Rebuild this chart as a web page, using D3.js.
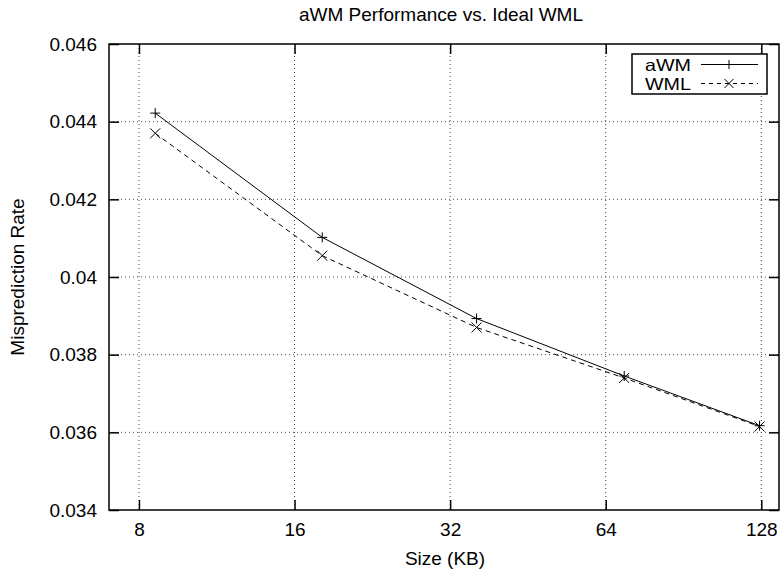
<!DOCTYPE html>
<html lang="en">
<head>
<meta charset="utf-8">
<title>aWM Performance vs. Ideal WML</title>
<script type="text/javascript" src="https://cdn.jsdelivr.net/npm/d3@7/dist/d3.min.js"></script>
<style>
body { margin: 0; background: #fff; }
svg text { font-family: "Liberation Sans", Arial, sans-serif; fill: #000; }
.grid line { stroke: #444; stroke-width: 1; stroke-dasharray: 1,3; }
.series path { fill: none; stroke: #000; stroke-width: 1; }
.series path.dashed { stroke-dasharray: 5,4; }
.marker { stroke: #000; stroke-width: 1; fill: none; }
</style>
</head>
<body>
<div id="chart"></div>
<script type="text/javascript">

// data
var sizes = [8.6, 18.1, 36, 69.5, 127];
var awm = [0.04422, 0.04102, 0.03893, 0.03745, 0.03617];
var wml = [0.04370, 0.04055, 0.03870, 0.03740, 0.03615];
var xTicks = [8, 16, 32, 64, 128];
var yTicks = [0.034, 0.036, 0.038, 0.040, 0.042, 0.044, 0.046];
var seriesNames = ["aWM", "WML"];

var width = 780, height = 574;
var box = {left: 109, right: 779, top: 44, bottom: 510};
var fontSize = 19;

var svg = d3.select("#chart").append("svg")
    .attr("width", width)
    .attr("height", height);

var x = d3.scaleLog().base(2).domain([7, 138.5]).range([box.left, box.right]);
var y = d3.scaleLinear().domain([0.034, 0.046]).range([box.bottom, box.top]);

// grid
var grid = svg.append("g").attr("class", "grid");
grid.selectAll(".gx")
    .data(xTicks)
    .enter().append("line")
        .attr("x1", d => x(d)).attr("x2", d => x(d))
        .attr("y1", box.top).attr("y2", box.bottom);
grid.selectAll(".gy")
    .data(yTicks.slice(1, -1))
    .enter().append("line")
        .attr("x1", box.left).attr("x2", box.right)
        .attr("y1", d => y(d)).attr("y2", d => y(d));

// axes, ticks mirrored on all four sides
function fmtY(d) { return d3.format(".3f")(d).replace(/0+$/, ""); }

svg.append("g")
    .attr("transform", "translate(0," + box.bottom + ")")
    .call(d3.axisBottom(x).tickValues(xTicks).tickFormat(d3.format("d")).tickSizeInner(-10).tickSizeOuter(0).tickPadding(13))
    .call(g => g.select(".domain").remove());
svg.append("g")
    .attr("transform", "translate(0," + box.top + ")")
    .call(d3.axisTop(x).tickValues(xTicks).tickFormat("").tickSizeInner(-10).tickSizeOuter(0))
    .call(g => g.select(".domain").remove());
svg.append("g")
    .attr("transform", "translate(" + box.left + ",0)")
    .call(d3.axisLeft(y).tickValues(yTicks).tickFormat(fmtY).tickSizeInner(-10).tickSizeOuter(0).tickPadding(12))
    .call(g => g.select(".domain").remove());
svg.append("g")
    .attr("transform", "translate(" + box.right + ",0)")
    .call(d3.axisRight(y).tickValues(yTicks).tickFormat("").tickSizeInner(-10).tickSizeOuter(0))
    .call(g => g.select(".domain").remove());

svg.selectAll(".tick line").attr("stroke", "#000").attr("stroke-width", 1.5);
svg.selectAll(".tick text")
    .style("font-family", "Liberation Sans, Arial, sans-serif")
    .style("font-size", fontSize + "px")
    .attr("fill", "#000");

svg.append("rect")
    .attr("x", box.left).attr("y", box.top)
    .attr("width", box.right - box.left).attr("height", box.bottom - box.top)
    .attr("fill", "none").attr("stroke", "#000").attr("stroke-width", 1.5);

// series
var line = d3.line().x(d => x(d[0])).y(d => y(d[1]));
var plot = svg.append("g").attr("class", "series");
plot.append("path").datum(d3.zip(sizes, awm)).attr("d", line);
plot.append("path").datum(d3.zip(sizes, wml)).attr("class", "dashed").attr("d", line);

var m = 5;
function plus(sel) {
    sel.append("path").attr("class", "marker")
        .attr("d", d => "M" + (x(d[0]) - m) + "," + y(d[1]) + "h" + 2 * m +
                        "M" + x(d[0]) + "," + (y(d[1]) - m) + "v" + 2 * m);
}
function cross(sel) {
    sel.append("path").attr("class", "marker")
        .attr("d", d => "M" + (x(d[0]) - m) + "," + (y(d[1]) - m) + "l" + 2 * m + "," + 2 * m +
                        "M" + (x(d[0]) - m) + "," + (y(d[1]) + m) + "l" + 2 * m + "," + (-2 * m));
}
plot.selectAll(".pa").data(d3.zip(sizes, awm)).enter().append("g").call(plus);
plot.selectAll(".pw").data(d3.zip(sizes, wml)).enter().append("g").call(cross);

// legend
var legend = svg.append("g");
legend.append("rect")
    .attr("x", 632).attr("y", 54).attr("width", 135).attr("height", 40)
    .attr("fill", "#fff").attr("stroke", "#000").attr("stroke-width", 1.5);
seriesNames.forEach(function(name, i) {
    var ly = 64.5 + i * 19;
    legend.append("text")
        .attr("x", 691).attr("y", ly + 6)
        .attr("text-anchor", "end")
        .style("font-size", "16.5px")
        .attr("textLength", 46)
        .attr("lengthAdjust", "spacingAndGlyphs")
        .text(name);
    legend.append("line")
        .attr("x1", 701).attr("x2", 758).attr("y1", ly).attr("y2", ly)
        .attr("stroke", "#000").attr("stroke-width", 1)
        .attr("stroke-dasharray", i == 0 ? null : "4,4");
    var s = 4.5;
    legend.append("path").attr("class", "marker")
        .attr("d", i == 0
            ? "M" + (729 - s) + "," + ly + "h" + 2 * s + "M729," + (ly - s) + "v" + 2 * s
            : "M" + (729 - s) + "," + (ly - s) + "l" + 2 * s + "," + 2 * s + "M" + (729 - s) + "," + (ly + s) + "l" + 2 * s + "," + (-2 * s));
});

// titles
svg.append("text")
    .attr("x", 441).attr("y", 21)
    .attr("text-anchor", "middle")
    .style("font-size", fontSize + "px")
    .text("aWM Performance vs. Ideal WML");
svg.append("text")
    .attr("x", 445).attr("y", 565)
    .attr("text-anchor", "middle")
    .style("font-size", fontSize + "px")
    .text("Size (KB)");
svg.append("text")
    .attr("transform", "translate(24," + (box.top + box.bottom) / 2 + ") rotate(-90)")
    .attr("text-anchor", "middle")
    .style("font-size", fontSize + "px")
    .text("Misprediction Rate");

</script>
</body>
</html>
